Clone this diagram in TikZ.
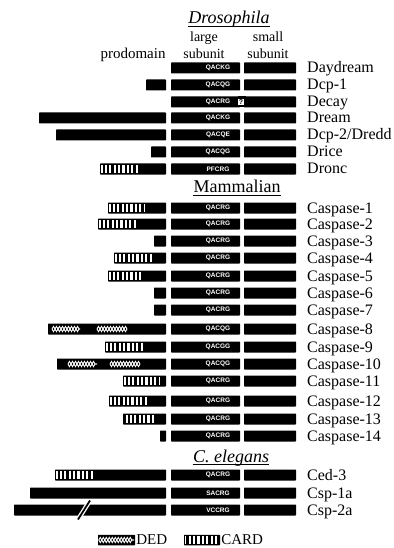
\documentclass[tikz,border=0pt]{standalone}
\usepackage{fontspec}
\setmainfont{Liberation Serif}
\setsansfont{Liberation Sans}
\usetikzlibrary{positioning,decorations.pathmorphing}

\begin{document}
\begin{tikzpicture}[
    x=1pt, y=-1pt,
    every node/.style={inner sep=0pt},
    bar/.style={fill=black, rounded corners=0.7pt},
    motif/.style={text=white, font=\fontsize{6.5}{6.5}\sffamily\bfseries},
    lbl/.style={anchor=base west, font=\fontsize{16}{16}\selectfont},
    taxon/.style={anchor=base, font=\fontsize{18}{18}\selectfont},
    head/.style={anchor=base, align=center, font=\fontsize{14}{17}\selectfont},
    cardbox/.style={fill=white},
    cardbar/.style={line width=8pt, dash pattern=on 2.2pt off 2.2pt},
    dedline/.style={draw=white, line width=0.9pt, decorate,
        decoration={zigzag, segment length=6pt, amplitude=2.6pt}}
]

% page frame
\useasboundingbox (0,0) rectangle (393,548);

% group titles and column heads
\node[taxon] (dro) at (229,24) {\itshape Drosophila};
\node[taxon] (mam) at (237,193) {Mammalian};
\node[taxon] (ele) at (231,462) {\itshape C. elegans};
\foreach \t in {dro,mam,ele}
    \draw[line width=0.6pt] ([yshift=-2.5pt]\t.base west) -- ([yshift=-2.5pt]\t.base east);

\node[head] (large) at (204,59) {large\\subunit};
\node[head] (small) at (268,59) {small\\subunit};
\node[head, font=\fontsize{15}{17}\selectfont] (prodom) at (133,59) {prodomain};

% large and small subunits, active-site motif, name
\foreach \yy/\mot/\txt [count=\i] in {
    68/QACKG/Daydream, 85/QACQG/Dcp-1, 102/QACRG/Decay, 118/QACKG/Dream,
    135/QACQE/Dcp-2\slash Dredd, 152/QACQG/Drice, 169/PFCRG/Dronc,
    208/QACRG/Caspase-1, 224/QACRG/Caspase-2, 241/QACRG/Caspase-3,
    258/QACRG/Caspase-4, 276/QACRG/Caspase-5, 293/QACRG/Caspase-6,
    310/QACRG/Caspase-7, 329/QACQG/Caspase-8, 347/QACGG/Caspase-9,
    364/QACQG/Caspase-10, 381/QACRG/Caspase-11, 401/QACRG/Caspase-12,
    419/QACRG/Caspase-13, 436/QACRG/Caspase-14,
    475/QACRG/Ced-3, 493/SACRG/Csp-1a, 510/VCCRG/Csp-2a}
{
    \fill[bar] (171,\yy-5.5) rectangle (240,\yy+5.5);
    \fill[bar] (244,\yy-5.5) rectangle (296,\yy+5.5);
    \node[motif] (m\i) at (218,\yy) {\mot};
    \node[lbl] (n\i) at (307,\yy+5) {\txt};
}

% Decay: one uncleaved chain
\fill (238,96.5) rectangle (246,107.5);
\node[fill=white, text=black, inner sep=0.6pt,
      font=\fontsize{7}{7}\sffamily\bfseries] (qm) at (241,102) {?};

% prodomains
\foreach \yy/\pro in {85/146, 118/39, 135/56, 152/151, 169/100,
    208/108, 224/98, 241/154, 258/114, 276/108, 293/154, 310/154,
    329/48, 347/105, 364/57, 381/123, 401/109, 419/123, 436/160,
    475/55, 493/30, 510/14}
    \fill[bar] (\pro,\yy-5.5) rectangle (166,\yy+5.5);

% CARD motifs
\foreach \yy/\a/\b in {169/100/138, 208/108/145, 224/98/137, 258/114/153,
    276/108/144, 347/105/144, 381/123/160, 401/109/147, 419/125/156,
    475/55/93}
{
    \fill[cardbox] (\a+1.3,\yy-4.2) rectangle (\b,\yy+4.2);
    \draw[cardbar] (\a+2.6,\yy) -- (\b,\yy);
}

% DED motifs
\foreach \yy/\a/\b in {329/52/80, 329/97/127, 364/68/97, 364/110/140}
{
    \draw[dedline] (\a,\yy) -- (\b,\yy);
    \draw[dedline, decoration={mirror}] (\a,\yy) -- (\b,\yy);
}

% Csp-2a prodomain break
\draw[white, line width=4.5pt] (79,518) -- (89,502);
\draw[line width=1.8pt] (78,519.5) -- (90,500.5);

% legend
\node[bar, minimum width=37pt, minimum height=10.5pt] (dedkey) at (116.5,540) {};
\draw[dedline] ([xshift=1pt]dedkey.west) -- ([xshift=-1pt]dedkey.east);
\draw[dedline, decoration={mirror}] ([xshift=1pt]dedkey.west) -- ([xshift=-1pt]dedkey.east);
\node[right=1pt of dedkey, font=\fontsize{15}{15}\selectfont] (dedtxt) {DED};

\node[bar, minimum width=36pt, minimum height=10.5pt] (cardkey) at (202,540) {};
\fill[cardbox] ([xshift=1.3pt,yshift=1.2pt]cardkey.south west) rectangle ([xshift=-1.3pt,yshift=-1.2pt]cardkey.north east);
\draw[cardbar] ([xshift=2.6pt]cardkey.west) -- ([xshift=-1.3pt]cardkey.east);
\node[right=1pt of cardkey, font=\fontsize{15}{15}\selectfont] (cardtxt) {CARD};

\end{tikzpicture}
\end{document}
